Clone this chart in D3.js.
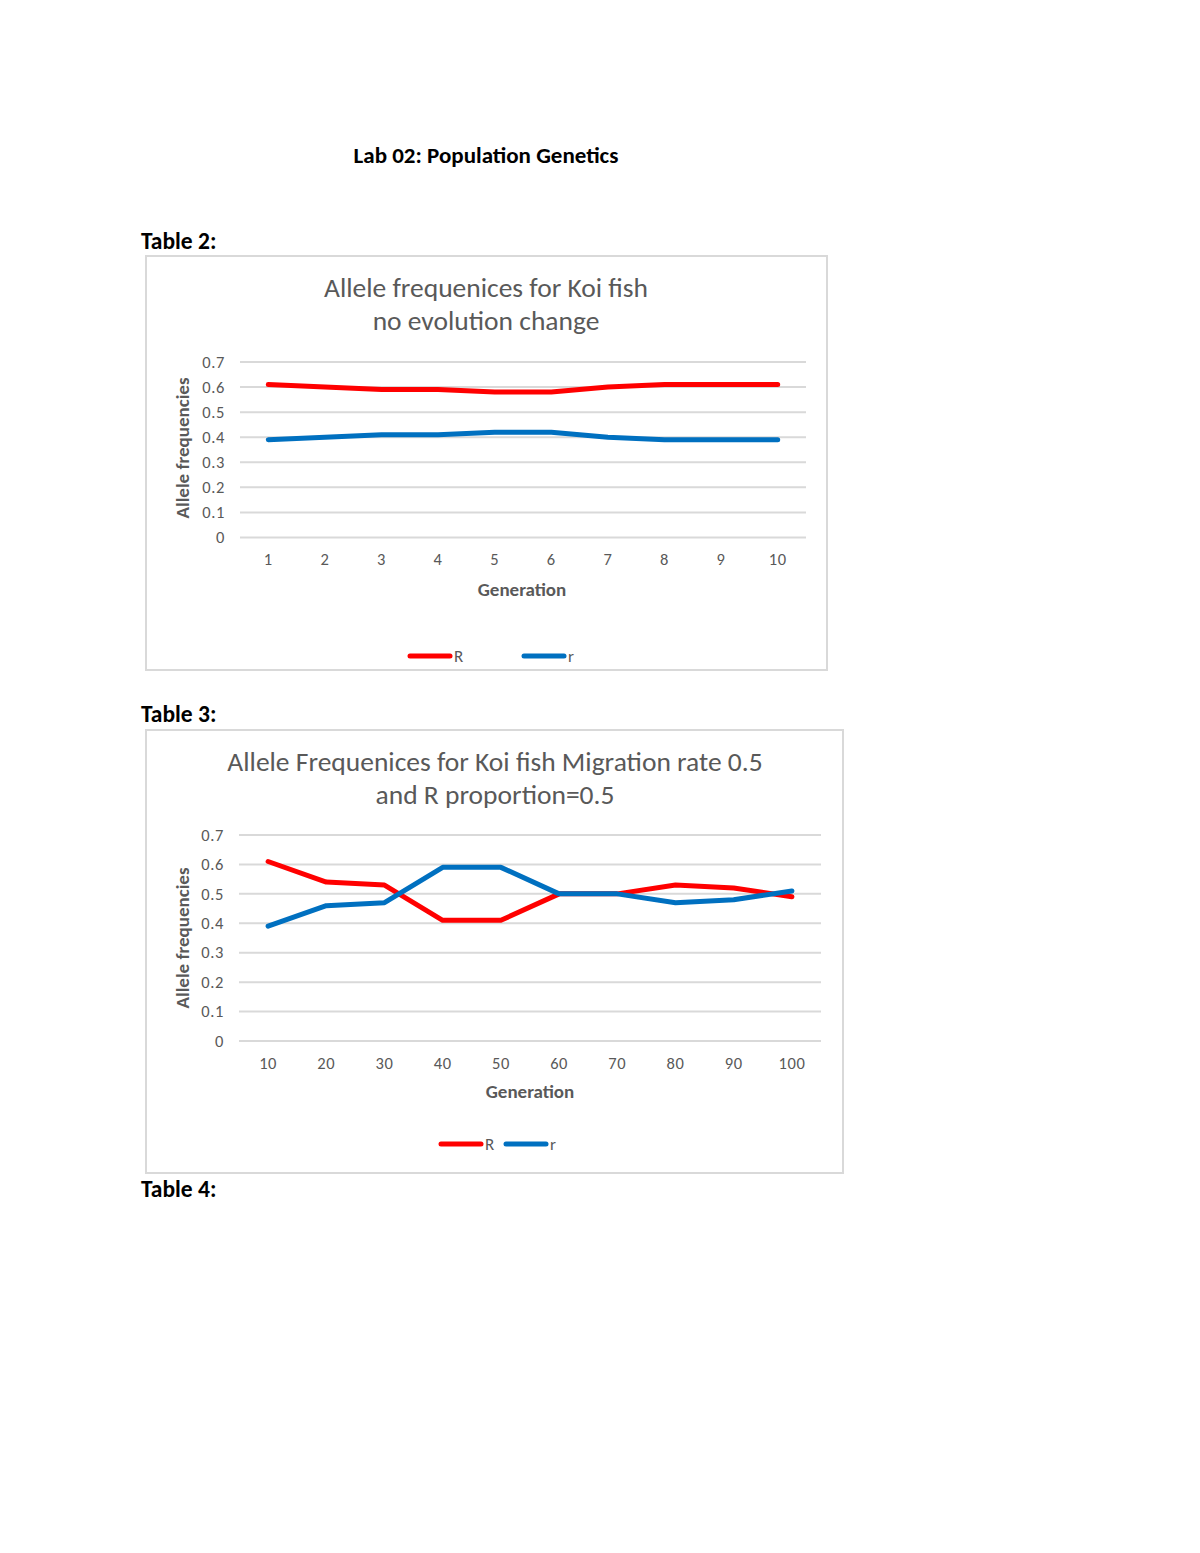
<!DOCTYPE html>
<html>
<head>
<meta charset="utf-8">
<script src="https://cdnjs.cloudflare.com/ajax/libs/d3/7.8.5/d3.min.js"></script>
<style>
  html, body { margin: 0; padding: 0; background: #fff; }
  svg { display: block; }
  text { font-family: Carlito, Calibri, Lato, "Open Sans", sans-serif; }
</style>
</head>
<body>
<svg id="page" width="1200" height="1553"></svg>
<script>
// ---------- Data ----------
const gen1 = ["1","2","3","4","5","6","7","8","9","10"];
const R1 = [0.61, 0.60, 0.59, 0.59, 0.58, 0.58, 0.60, 0.61, 0.61, 0.61];
const r1 = [0.39, 0.40, 0.41, 0.41, 0.42, 0.42, 0.40, 0.39, 0.39, 0.39];

const gen2 = ["10","20","30","40","50","60","70","80","90","100"];
const R2 = [0.61, 0.54, 0.53, 0.41, 0.41, 0.50, 0.50, 0.53, 0.52, 0.49];
const r2 = [0.39, 0.46, 0.47, 0.59, 0.59, 0.50, 0.50, 0.47, 0.48, 0.51];

const yTicks = [0, 0.1, 0.2, 0.3, 0.4, 0.5, 0.6, 0.7];
const seriesNames = ["R", "r"];
const seriesColors = ["#FF0000", "#0070C0"];

const FONT = "Carlito, Calibri, Lato, 'Open Sans', sans-serif";
const svg = d3.select("#page");

// ---------- Page text ----------
svg.append("text").attr("x", 486).attr("y", 163).attr("text-anchor", "middle")
  .attr("font-size", 23).attr("font-weight", "bold").attr("fill", "#000")
  .text("Lab 02: Population Genetics");
[["Table 2:", 249], ["Table 3:", 722], ["Table 4:", 1197]].forEach(([t, y]) => {
  svg.append("text").attr("x", 141).attr("y", y).attr("font-size", 23.5)
    .attr("font-weight", "bold").attr("fill", "#000").text(t);
});

function drawChart(cfg) {
  const g = svg.append("g");
  // frame
  g.append("rect").attr("x", cfg.box[0]).attr("y", cfg.box[1])
    .attr("width", cfg.box[2]).attr("height", cfg.box[3])
    .attr("fill", "#fff").attr("stroke", "#D9D9D9").attr("stroke-width", 2);

  // title
  cfg.title.forEach((line, i) => {
    g.append("text").attr("x", cfg.titleX).attr("y", cfg.titleY + i * 33)
      .attr("text-anchor", "middle").attr("font-size", cfg.titleSize).attr("fill", "#595959")
      .text(line);
  });

  const x = d3.scaleBand().domain(cfg.cats).range([cfg.plot.x0, cfg.plot.x1]);
  const y = d3.scaleLinear().domain([0, 0.7]).range([cfg.plot.y0, cfg.plot.y1]);

  // gridlines
  g.append("g").selectAll("line").data(yTicks).join("line")
    .attr("x1", cfg.plot.x0).attr("x2", cfg.plot.x1)
    .attr("y1", d => y(d)).attr("y2", d => y(d))
    .attr("stroke", "#D9D9D9").attr("stroke-width", 2);

  // y axis labels
  const yAxis = d3.axisLeft(y).tickValues(yTicks).tickSize(0).tickPadding(15)
    .tickFormat(d => d === 0 ? "0" : d3.format(".1f")(d));
  const ya = g.append("g").attr("transform", `translate(${cfg.plot.x0},0)`).call(yAxis);
  ya.select(".domain").remove();
  ya.selectAll("text").attr("font-size", 16.5).attr("fill", "#595959")
    .attr("letter-spacing", 0.6).attr("font-family", FONT);

  // x axis labels
  const xAxis = d3.axisBottom(x).tickSize(0).tickPadding(16);
  const xa = g.append("g").attr("transform", `translate(0,${cfg.plot.y0})`).call(xAxis);
  xa.select(".domain").remove();
  xa.selectAll("text").attr("font-size", 16.5).attr("fill", "#595959")
    .attr("letter-spacing", 0.6).attr("font-family", FONT);

  // axis titles
  g.append("text").attr("transform", `translate(${cfg.yTitle[0]},${cfg.yTitle[1]}) rotate(-90)`)
    .attr("text-anchor", "middle").attr("font-size", 19).attr("font-weight", "bold")
    .attr("fill", "#595959").text("Allele frequencies");
  g.append("text").attr("x", cfg.xTitle[0]).attr("y", cfg.xTitle[1])
    .attr("text-anchor", "middle").attr("font-size", 19).attr("font-weight", "bold")
    .attr("fill", "#595959").text("Generation");

  // lines
  const line = d3.line().x((d, i) => x(cfg.cats[i]) + x.bandwidth() / 2).y(d => y(d));
  cfg.series.forEach((vals, k) => {
    g.append("path").datum(vals).attr("d", line).attr("fill", "none")
      .attr("stroke", seriesColors[k]).attr("stroke-width", 5)
      .attr("stroke-linejoin", "round").attr("stroke-linecap", "round");
  });

  // legend
  seriesNames.forEach((name, k) => {
    const lx = cfg.legend[k];
    g.append("line").attr("x1", lx).attr("x2", lx + 40)
      .attr("y1", cfg.legendY).attr("y2", cfg.legendY)
      .attr("stroke", seriesColors[k]).attr("stroke-width", 5).attr("stroke-linecap", "round");
    g.append("text").attr("x", lx + 44).attr("y", cfg.legendY + 6)
      .attr("font-size", 17).attr("fill", "#595959").text(name);
  });
}

drawChart({
  box: [146, 256, 681, 414],
  title: ["Allele frequenices for Koi fish", "no evolution change"],
  titleX: 486, titleY: 297, titleSize: 27.5,
  cats: gen1,
  series: [R1, r1],
  plot: { x0: 240, x1: 806, y0: 537.5, y1: 362 },
  yTitle: [189, 448],
  xTitle: [522, 596],
  legend: [410, 524],
  legendY: 656
});

drawChart({
  box: [146, 730, 697, 443],
  title: ["Allele Frequenices for Koi fish Migration rate 0.5", "and R proportion=0.5"],
  titleX: 495, titleY: 771, titleSize: 27.5,
  cats: gen2,
  series: [R2, r2],
  plot: { x0: 239, x1: 821, y0: 1041, y1: 835 },
  yTitle: [189, 938],
  xTitle: [530, 1098],
  legend: [441, 506],
  legendY: 1144
});
</script>
</body>
</html>
